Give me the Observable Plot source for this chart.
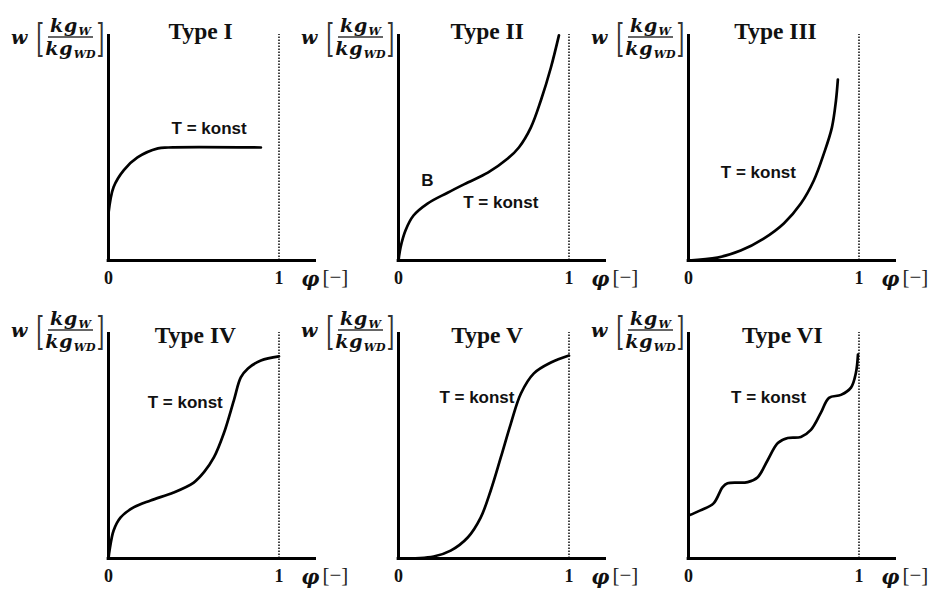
<!DOCTYPE html>
<html><head><meta charset="utf-8">
<script src="https://cdn.jsdelivr.net/npm/d3@7"></script>
<script src="https://cdn.jsdelivr.net/npm/@observablehq/plot@0.6"></script>
<style>
html,body{margin:0;padding:0;background:#fff;overflow:hidden}
#chart{position:relative;width:940px;height:589px;background:#fff}
.panel{position:absolute;width:360px;height:298px}
.panel svg{position:absolute;left:0;top:0}
.ylab{position:absolute;left:11px;display:flex;align-items:center;color:#111;font-family:"DejaVu Serif",serif;font-weight:bold;font-style:italic}
.ylab .w{font-size:19px;margin-right:9px}
.ylab .br{font-style:normal;font-weight:normal;font-size:20px;display:inline-block;transform:scaleY(2.0);color:#333;line-height:20px}
.ylab .frac{display:inline-flex;flex-direction:column;align-items:center;font-size:19px;line-height:19px;margin:0 1px}
.ylab .num{border-bottom:2px solid #666;padding:0 2px 1px 2px;letter-spacing:1px}
.ylab .den{padding-top:1px;letter-spacing:1px}
.ylab sub{font-size:11px;line-height:0;position:relative;top:3px;vertical-align:baseline;letter-spacing:0}
</style></head><body><div id="chart"></div>
<script>
// ---- data ----
const titles = ["Type I", "Type II", "Type III", "Type IV", "Type V", "Type VI"];

const typeI_phi = [0, 0.03, 0.09, 0.17, 0.29, 0.35, 0.894];
const typeI_w   = [0.21, 0.325, 0.40, 0.456, 0.496, 0.50, 0.50];

const typeII_phi = [0, 0.012, 0.041, 0.088, 0.17, 0.288, 0.406, 0.524, 0.641, 0.706, 0.776, 0.835, 0.894, 0.941];
const typeII_w   = [0, 0.058, 0.133, 0.199, 0.252, 0.30, 0.345, 0.389, 0.451, 0.50, 0.588, 0.708, 0.854, 0.996];

const typeIII_phi = [0, 0.17, 0.306, 0.441, 0.559, 0.659, 0.735, 0.794, 0.841, 0.865, 0.876];
const typeIII_w   = [0, 0.013, 0.044, 0.097, 0.164, 0.252, 0.354, 0.473, 0.588, 0.708, 0.80];

const typeIV_phi = [0, 0.006, 0.03, 0.07, 0.147, 0.247, 0.382, 0.50, 0.559, 0.618, 0.676, 0.735, 0.776, 0.818, 0.894, 1.0];
const typeIV_w   = [0, 0.035, 0.124, 0.181, 0.226, 0.257, 0.292, 0.336, 0.381, 0.447, 0.553, 0.699, 0.801, 0.841, 0.876, 0.894];

const typeV_phi = [0, 0.206, 0.306, 0.406, 0.482, 0.541, 0.60, 0.659, 0.718, 0.794, 0.894, 1.0];
const typeV_w   = [0, 0.009, 0.035, 0.093, 0.181, 0.301, 0.447, 0.597, 0.73, 0.819, 0.867, 0.898];

const typeVI_phi = [0, 0.07, 0.147, 0.20, 0.229, 0.347, 0.406, 0.465, 0.524, 0.582, 0.659, 0.718, 0.776, 0.824, 0.894, 0.953, 0.982, 0.994];
const typeVI_w   = [0.19, 0.213, 0.244, 0.316, 0.333, 0.338, 0.36, 0.436, 0.511, 0.533, 0.538, 0.569, 0.644, 0.711, 0.724, 0.756, 0.822, 0.902];

const tickValues = [0, 1];
const curveLabel = "T = konst";
const pointLabel = "B";
const xSymbol = "φ";
const xUnit = "[−]";
const ySymbol = "w";
const yNum = "kg", yNumSub = "W", yDen = "kg", yDenSub = "WD";

// ---- layout (kept apart from data) ----
const series = [
  [typeI_phi, typeI_w], [typeII_phi, typeII_w], [typeIII_phi, typeIII_w],
  [typeIV_phi, typeIV_w], [typeV_phi, typeV_w], [typeVI_phi, typeVI_w]
];
const konstAt = [[0.59, 0.584], [0.60, 0.258], [0.41, 0.39], [0.45, 0.69], [0.46, 0.712], [0.47, 0.712]];
const bAt = [0.17, 0.354];
const titleX = [0.54, 0.52, 0.51, 0.51, 0.52, 0.55];
const xEnd = 1.22;

const chart = document.getElementById("chart");

series.forEach(([phi, w], i) => {
  const col = i % 3, row = Math.floor(i / 3);
  const data = phi.map((p, k) => ({phi: p, w: w[k]}));
  const panel = document.createElement("div");
  panel.className = "panel";
  panel.style.left = (col * 290) + "px";
  panel.style.top = (row * 298) + "px";

  const marks = [
    Plot.ruleX([1], {y1: 0, y2: 1, stroke: "#444", strokeWidth: 2, strokeDasharray: "1.5,1.5"}),
    Plot.ruleX([0], {y1: 0, y2: 1, stroke: "#000", strokeWidth: 3}),
    Plot.ruleY([0], {x1: -0.008, x2: xEnd, stroke: "#000", strokeWidth: 3}),
    Plot.line(data, {x: "phi", y: "w", curve: "catmull-rom", stroke: "#000", strokeWidth: 2.7}),
    Plot.text(tickValues, {x: d => d, y: 0, dy: 18, text: d => String(d), textAnchor: "middle", lineAnchor: "middle", fontSize: 18, fontWeight: "bold", fontFamily: "Liberation Serif, serif", fill: "#111"}),
    Plot.text([titles[i]], {x: titleX[i], frameAnchor: "top", lineAnchor: "bottom", dy: row === 0 ? 4 : 10, fontSize: 23.5, fontWeight: "bold", fontFamily: "Liberation Serif, serif", fill: "#111"}),
    Plot.text([curveLabel], {x: konstAt[i][0], y: konstAt[i][1], textAnchor: "middle", lineAnchor: "middle", fontSize: 17, fontWeight: "bold", fontFamily: "Liberation Sans, Arial, sans-serif", fill: "#111"}),
    Plot.text([xSymbol], {x: 1.13, y: 0, dy: 19, textAnchor: "start", lineAnchor: "middle", fontSize: 20, fontWeight: "bold", fontStyle: "italic", fontFamily: "DejaVu Serif, serif", fill: "#111"}),
    Plot.text([xUnit], {x: 1.255, y: 0, dy: 17, textAnchor: "start", lineAnchor: "middle", fontSize: 21, fontFamily: "Liberation Serif, serif", fill: "#222"})
  ];
  if (i === 1) {
    marks.push(Plot.text([pointLabel], {x: bAt[0], y: bAt[1], textAnchor: "middle", lineAnchor: "middle", fontSize: 17, fontWeight: "bold", fontFamily: "Liberation Sans, Arial, sans-serif", fill: "#111"}));
  }

  const svg = Plot.plot({
    width: 360, height: 298,
    marginLeft: 108, marginRight: 44, marginTop: 34, marginBottom: 38,
    x: {domain: [0, xEnd], axis: null},
    y: {domain: [0, 1], axis: null},
    style: {background: "transparent", color: "#111", fontFamily: "Liberation Serif, serif", overflow: "visible"},
    marks
  });
  panel.appendChild(svg);

  const yl = document.createElement("div");
  yl.className = "ylab";
  yl.style.top = (row === 0 ? 16 : 11) + "px";
  yl.innerHTML = `<span class="w">${ySymbol}</span><span class="br">[</span><span class="frac"><span class="num">${yNum}<sub>${yNumSub}</sub></span><span class="den">${yDen}<sub>${yDenSub}</sub></span></span><span class="br">]</span>`;
  panel.appendChild(yl);

  chart.appendChild(panel);
});
</script></body></html>
